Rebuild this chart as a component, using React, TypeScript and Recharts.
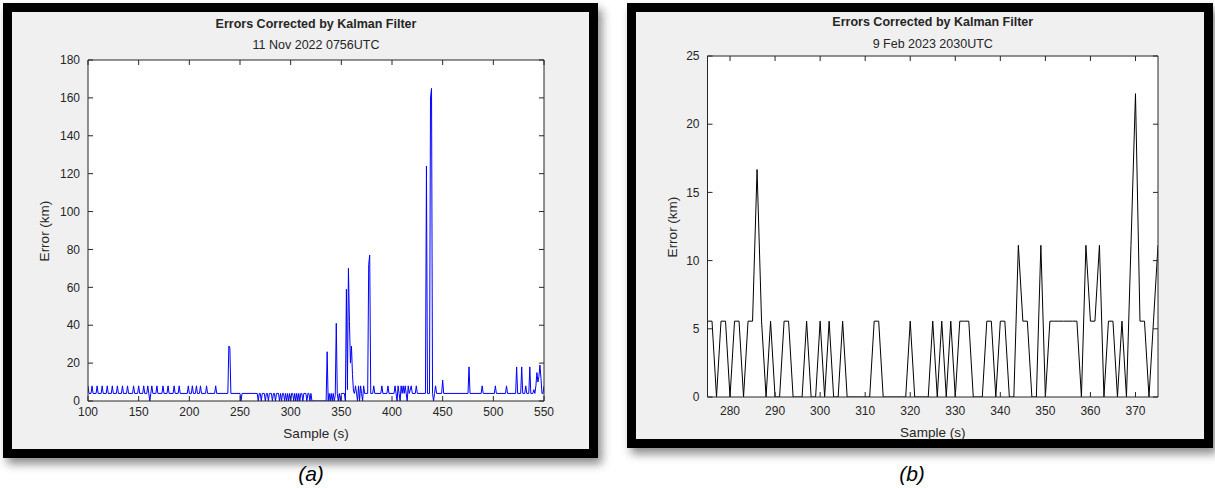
import { LineChart, Line, XAxis, YAxis } from "recharts";

const FONT = '"Liberation Sans", Arial, Helvetica, sans-serif';
const AXIS = "#262626";

// (a) 11 Nov 2022 — polyline vertices [sample (s), error (km)]
const quietPoints: [number, number][] = [
  [100, 8], [101, 4], [103, 4], [104, 8], [105, 4], [108, 4], [109, 8], [110, 4],
  [113, 4], [114, 8], [115, 4], [118, 4], [119, 8], [120, 4], [123, 4], [124, 8],
  [125, 4], [128, 4], [129, 8], [130, 4], [133, 4], [134, 8], [135, 4], [138, 4],
  [139, 8], [140, 4], [144, 4], [145, 8], [146, 4], [149, 4], [150, 8], [151, 4],
  [154, 4], [155, 8], [156, 4], [158, 4], [159, 8], [160, 4], [161, 0], [162, 4],
  [163, 8], [164, 4], [167, 4], [168, 8], [169, 4], [173, 4], [174, 8], [175, 4],
  [178, 4], [179, 8], [180, 4], [184, 4], [185, 8], [186, 4], [189, 4], [190, 8],
  [191, 4], [198, 4], [199, 8], [200, 4], [202, 4], [203, 8], [204, 4], [206, 4],
  [207, 8], [208, 4], [210, 4], [211, 8], [212, 4], [216, 4], [217, 8], [218, 4],
  [225, 4], [226, 8], [227, 4], [238, 4], [239, 29], [240, 28], [241, 4], [250, 4],
  [251, 0], [252, 4],
];
const jitterPoints: [number, number][] = [
  [267, 4], [268, 0], [269, 4], [270, 4], [271, 0], [272, 4], [274, 4], [275, 0],
  [276, 4], [277, 4], [278, 0], [279, 4], [281, 4], [282, 0], [283, 4], [284, 4],
  [285, 0], [286, 4], [288, 4], [289, 0], [290, 4], [291, 0], [292, 4], [293, 4],
  [294, 0], [295, 4], [296, 0], [297, 4], [298, 0], [299, 4], [300, 0], [301, 4],
  [302, 4], [303, 0], [304, 4], [305, 0], [306, 4], [307, 0], [308, 4], [309, 0],
  [310, 4], [311, 4], [312, 0], [313, 4], [315, 4], [316, 0], [317, 4], [318, 4],
  [319, 0], [320, 4], [321, 0], [335, 0],
];
const burstPoints: [number, number][] = [
  [336, 26], [337, 0], [338, 4], [339, 0], [340, 4], [341, 0], [342, 4], [343, 0],
  [344, 3], [345, 41], [346, 4], [347, 0], [348, 4], [349, 0], [350, 4], [353, 4],
  [354, 0], [355, 59], [356, 6], [357, 70], [358, 42], [359, 20], [360, 29], [361, 14],
  [362, 5], [363, 4], [364, 8], [365, 4], [366, 0], [367, 8], [368, 0], [369, 8],
  [370, 4], [371, 0], [372, 8], [373, 4], [376, 4], [377, 72], [378, 77], [379, 4],
  [381, 4], [382, 8], [383, 4], [389, 4], [390, 8], [391, 4], [395, 4], [396, 8],
  [397, 4], [402, 4], [403, 8], [404, 4], [405, 0], [406, 8], [407, 4], [408, 0],
  [409, 8], [410, 4], [411, 8], [412, 4], [413, 8], [414, 4], [415, 0], [416, 8],
  [417, 4], [419, 8], [420, 4], [423, 4], [424, 8], [425, 4], [433, 4], [434, 124],
  [435, 4], [437, 4], [438, 160], [439, 165], [440, 4], [441, 0], [442, 4], [443, 8],
  [444, 4],
];
const tailPoints: [number, number][] = [
  [449, 4], [450, 11], [451, 4], [475, 4], [476, 18], [477, 4], [488, 4], [489, 8],
  [490, 4], [501, 4], [502, 8], [503, 4], [512, 4], [513, 8], [514, 4], [522, 4],
  [523, 18], [524, 4], [527, 4], [528, 18], [529, 4], [531, 4], [532, 8], [533, 4],
  [535, 4], [536, 18], [537, 4], [539, 4], [540, 6], [541, 4], [542, 8], [543, 15],
  [544, 10], [545, 13], [546, 19], [547, 12], [548, 4], [549, 4], [550, 8],
];
const ticksAX = [100, 150, 200, 250, 300, 350, 400, 450, 500, 550];
const ticksAY = [0, 20, 40, 60, 80, 100, 120, 140, 160, 180];

// (b) 9 Feb 2023 — one value per second starting at 275 s
const firstSampleB = 275;
const errorsB = [
  5.56, 5.56, 0, 5.56, 5.56, 0, 5.56, 5.56, 0, 5.56, // 275-284
  5.56, 16.68, 5.56, 0, 5.56, 0, 0, 5.56, 5.56, 0, // 285-294
  0, 0, 5.56, 0, 0, 5.56, 0, 5.56, 0, 0, // 295-304
  5.56, 0, 0, 0, 0, 0, 0, 5.56, 5.56, 0, // 305-314
  0, 0, 0, 0, 0, 5.56, 0, 0, 0, 0, // 315-324
  5.56, 0, 5.56, 0, 5.56, 0, 5.56, 5.56, 5.56, 0, // 325-334
  0, 0, 5.56, 5.56, 0, 5.56, 5.56, 0, 0, 11.12, // 335-344
  5.56, 5.56, 0, 0, 11.12, 0, 5.56, 5.56, 5.56, 5.56, // 345-354
  5.56, 5.56, 5.56, 0, 11.12, 5.56, 5.56, 11.12, 0, 5.56, // 355-364
  5.56, 0, 5.56, 0, 11.12, 22.24, 5.56, 5.56, 0, 5.56, // 365-374
  11.12, // 375
];
const ticksBX = [280, 290, 300, 310, 320, 330, 340, 350, 360, 370];
const ticksBY = [0, 5, 10, 15, 20, 25];

const dataA = [...quietPoints, ...jitterPoints, ...burstPoints, ...tailPoints].map(
  ([sample, error]) => ({ sample, error })
);
const dataB = errorsB.map((error, i) => ({ sample: firstSampleB + i, error }));

const Txt = ({
  x,
  y,
  children,
  size = 13,
  bold = false,
  rotate = 0,
}: {
  x: number;
  y: number;
  children: any;
  size?: number;
  bold?: boolean;
  rotate?: number;
}) => (
  <div
    style={{
      position: "absolute",
      left: x,
      top: y,
      transform: `translate(-50%, -50%) rotate(${rotate}deg)`,
      whiteSpace: "nowrap",
      fontSize: size,
      fontWeight: bold ? "bold" : "normal",
      color: AXIS,
      lineHeight: 1,
    }}
  >
    {children}
  </div>
);

type Box = { l: number; t: number; r: number; b: number };

const Panel = ({
  frame,
  plot,
  data,
  xDomain,
  yDomain,
  xTicks,
  yTicks,
  color,
  title,
  subtitle,
  titleY,
  subY,
  xLabelY,
  yLabelX,
  xTickGap,
}: {
  frame: Box;
  plot: Box;
  data: { sample: number; error: number }[];
  xDomain: [number, number];
  yDomain: [number, number];
  xTicks: number[];
  yTicks: number[];
  color: string;
  title: string;
  subtitle: string;
  titleY: number;
  subY: number;
  xLabelY: number;
  yLabelX: number;
  xTickGap: number;
}) => {
  const bw = 9;
  const g = { l: frame.l + bw, t: frame.t + bw, r: frame.r - bw, b: frame.b - bw };
  const cx = (plot.l + plot.r) / 2;
  const cy = (plot.t + plot.b) / 2;
  const tickStyle = { fontSize: 12, fill: AXIS, fontFamily: FONT };
  const blank = () => "";
  return (
    <>
      <div
        style={{
          position: "absolute",
          left: frame.l,
          top: frame.t,
          width: frame.r - frame.l,
          height: frame.b - frame.t,
          boxSizing: "border-box",
          border: `${bw}px solid #000`,
          background: "#f0f0f0",
          boxShadow: "4px 6px 9px rgba(0,0,0,0.45)",
        }}
      />
      <div
        style={{
          position: "absolute",
          left: plot.l,
          top: plot.t,
          width: plot.r - plot.l,
          height: plot.b - plot.t,
          background: "#fff",
        }}
      />
      <div style={{ position: "absolute", left: g.l, top: g.t }}>
        <LineChart
          width={g.r - g.l}
          height={g.b - g.t}
          data={data}
          margin={{
            left: plot.l - g.l - 1,
            top: plot.t - g.t - 1,
            right: g.r - plot.r - 1,
            bottom: g.b - plot.b - 1,
          }}
          style={{ overflow: "visible" }}
        >
          <XAxis
            xAxisId="bottom"
            dataKey="sample"
            type="number"
            domain={xDomain}
            ticks={xTicks}
            allowDataOverflow
            height={1}
            stroke={AXIS}
            tickSize={-5}
            tickMargin={xTickGap}
            tick={tickStyle}
            interval={0}
          />
          <XAxis
            xAxisId="top"
            orientation="top"
            dataKey="sample"
            type="number"
            domain={xDomain}
            ticks={xTicks}
            allowDataOverflow
            height={1}
            stroke={AXIS}
            tickSize={-5}
            tickFormatter={blank}
            interval={0}
          />
          <YAxis
            yAxisId="left"
            type="number"
            domain={yDomain}
            ticks={yTicks}
            allowDataOverflow
            width={1}
            stroke={AXIS}
            tickSize={-5}
            tickMargin={13}
            tick={tickStyle}
            interval={0}
          />
          <YAxis
            yAxisId="right"
            orientation="right"
            type="number"
            domain={yDomain}
            ticks={yTicks}
            allowDataOverflow
            width={1}
            stroke={AXIS}
            tickSize={-5}
            tickFormatter={blank}
            interval={0}
          />
          <Line
            xAxisId="bottom"
            yAxisId="left"
            type="linear"
            dataKey="error"
            stroke={color}
            strokeWidth={1}
            dot={false}
            isAnimationActive={false}
          />
        </LineChart>
      </div>
      <Txt x={cx} y={titleY} size={12.5} bold>
        {title}
      </Txt>
      <Txt x={cx} y={subY} size={12.5}>
        {subtitle}
      </Txt>
      <Txt x={yLabelX} y={cy} size={13.5} rotate={-90}>
        Error (km)
      </Txt>
      <Txt x={cx} y={xLabelY} size={13.5}>
        Sample (s)
      </Txt>
    </>
  );
};

const Caption = ({ x, children }: { x: number; children: string }) => (
  <div
    style={{
      position: "absolute",
      left: x,
      top: 473,
      transform: "translate(-50%, -50%)",
      fontSize: 21,
      fontStyle: "italic",
      color: "#000",
      lineHeight: 1,
    }}
  >
    {children}
  </div>
);

export default function App() {
  return (
    <div
      style={{
        position: "absolute",
        left: 0,
        top: 0,
        width: 1215,
        height: 488,
        background: "#fff",
        overflow: "hidden",
        fontFamily: FONT,
      }}
    >
      <Panel
        frame={{ l: 3, t: 3, r: 598, b: 458 }}
        plot={{ l: 88, t: 60, r: 544, b: 401 }}
        data={dataA}
        xDomain={[100, 550]}
        yDomain={[0, 180]}
        xTicks={ticksAX}
        yTicks={ticksAY}
        color="#0000ff"
        title="Errors Corrected by Kalman Filter"
        subtitle="11 Nov 2022 0756UTC"
        titleY={24}
        subY={45}
        xLabelY={434}
        yLabelX={45}
        xTickGap={11}
      />
      <Panel
        frame={{ l: 627, t: 3, r: 1213, b: 448 }}
        plot={{ l: 707.5, t: 56, r: 1158, b: 397 }}
        data={dataB}
        xDomain={[275, 375]}
        yDomain={[0, 25]}
        xTicks={ticksBX}
        yTicks={ticksBY}
        color="#000000"
        title="Errors Corrected by Kalman Filter"
        subtitle="9 Feb 2023 2030UTC"
        titleY={22}
        subY={44}
        xLabelY={433}
        yLabelX={673}
        xTickGap={14}
      />
      <Caption x={311}>(a)</Caption>
      <Caption x={912}>(b)</Caption>
    </div>
  );
}
